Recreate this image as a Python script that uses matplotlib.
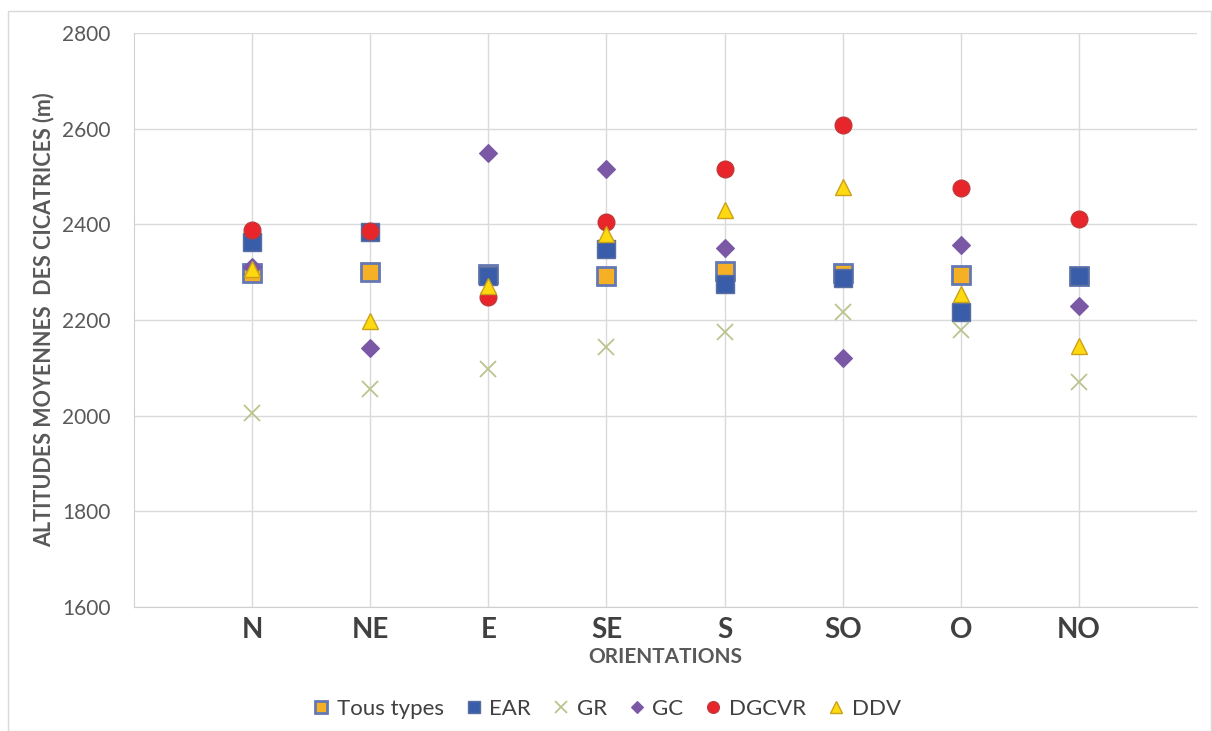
import matplotlib
matplotlib.use("Agg")
import matplotlib.pyplot as plt

plt.rcParams['font.family'] = ['Lato', 'DejaVu Sans']

orientations = ["N", "NE", "E", "SE", "S", "SO", "O", "NO"]
tous_types = [2298, 2301, 2296, 2292, 2303, 2298, 2294, 2292]
ear = [2363, 2383, 2292, 2348, 2275, 2287, 2217, 2292]
gr = [2006, 2055, 2097, 2143, 2174, 2216, 2180, 2070]
gc = [2310, 2141, 2550, 2516, 2350, 2120, 2357, 2229]
dgcvr = [2389, 2387, 2248, 2405, 2516, 2608, 2476, 2411]
ddv = [2306, 2198, 2271, 2380, 2429, 2478, 2254, 2145]

fig = plt.figure(figsize=(12.12, 7.31), dpi=100)
fig.patch.set_facecolor('white')
# outer chart border
fig.add_artist(plt.Rectangle((8/1212, 0.0), 1 - 8/1212 - 0.001, 1 - 11/731,
                             transform=fig.transFigure, fill=False,
                             edgecolor='#D9D9D9', linewidth=1.0))

ax = fig.add_axes([134/1212, 1 - 607/731, (1197 - 134)/1212, (607 - 33)/731])
x = list(range(len(orientations)))

ax.plot(x, tous_types, linestyle='none', marker='s', markersize=13,
        markerfacecolor='#F5B025', markeredgecolor='#6478B4', markeredgewidth=2,
        label='Tous types', zorder=3)
ax.plot(x, ear, linestyle='none', marker='s', markersize=13,
        markerfacecolor='#3A5DAA', markeredgecolor='#5A6FA0', markeredgewidth=1,
        label='EAR', zorder=4)
ax.plot(x, gr, linestyle='none', marker='x', markersize=12,
        markeredgecolor='#B9C48F', markeredgewidth=1.3,
        label='GR', zorder=5)
ax.plot(x, gc, linestyle='none', marker='D', markersize=9,
        markerfacecolor='#7A58A6', markeredgecolor='#7A58A6', markeredgewidth=0.8,
        label='GC', zorder=6)
ax.plot(x, dgcvr, linestyle='none', marker='o', markersize=12,
        markerfacecolor='#E8252A', markeredgecolor='#C2383A', markeredgewidth=1,
        label='DGCVR', zorder=7)
ax.plot(x, ddv, linestyle='none', marker='^', markersize=12,
        markerfacecolor='#FFD90F', markeredgecolor='#C9A21A', markeredgewidth=1,
        label='DDV', zorder=8)

ax.set_xlim(-1, 8)
ax.set_ylim(1600, 2800)
ax.set_yticks([1600, 1800, 2000, 2200, 2400, 2600, 2800])
ax.set_xticks(x)
ax.set_xticklabels(orientations, fontsize=20, fontweight='bold', color='#404040')
ax.tick_params(axis='y', labelsize=15, colors='#595959', length=0, pad=17)
ax.tick_params(axis='x', length=0, pad=7)
ax.grid(True, color='#DADADA', linewidth=1)
ax.set_axisbelow(True)
for side in ['top', 'right']:
    ax.spines[side].set_visible(False)
ax.spines['left'].set_color('#D0D0D0')
ax.spines['bottom'].set_color('#D0D0D0')

ax.set_xlabel('ORIENTATIONS', fontsize=15, fontweight='bold', color='#595959', labelpad=3)
ax.set_ylabel('ALTITUDES MOYENNES  DES CICATRICES (m)', fontsize=15.5,
              fontweight='bold', color='#595959', labelpad=5)

handles, labels = ax.get_legend_handles_labels()
leg = fig.legend(handles, labels, loc='center', bbox_to_anchor=(0.5, 1 - 709/731),
                 ncol=6, frameon=False, fontsize=16, handlelength=0.9,
                 handletextpad=0.25, columnspacing=0.9, markerscale=0.7,
                 labelcolor='#404040')

fig.savefig('out.png', dpi=100, facecolor='white')
